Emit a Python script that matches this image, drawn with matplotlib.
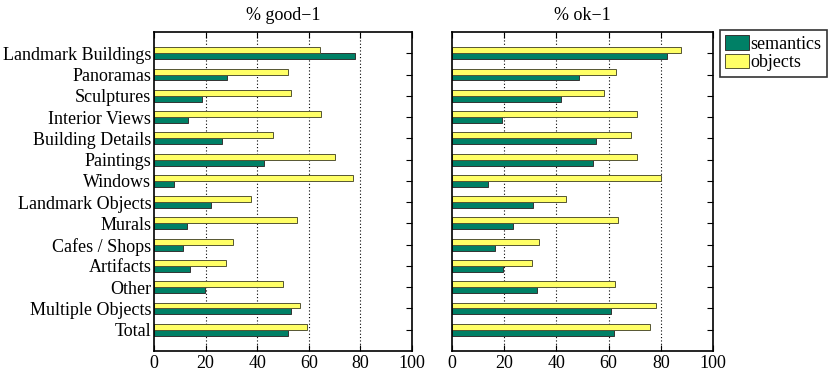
import matplotlib
matplotlib.use("Agg")
import matplotlib.pyplot as plt
import numpy as np

categories = ["Landmark Buildings", "Panoramas", "Sculptures", "Interior Views",
              "Building Details", "Paintings", "Windows", "Landmark Objects",
              "Murals", "Cafes / Shops", "Artifacts", "Other",
              "Multiple Objects", "Total"]

good_semantics = [78.1, 28.2, 18.5, 13.2, 26.5, 42.8, 7.6, 21.9, 12.8, 11.1, 14.0, 19.9, 53.2, 51.8]
good_objects = [64.5, 52.1, 53.0, 64.6, 46.3, 70.2, 77.0, 37.6, 55.3, 30.6, 27.8, 50.0, 56.4, 59.3]

ok_semantics = [82.5, 48.5, 41.6, 19.2, 55.0, 54.0, 13.8, 31.2, 23.4, 16.6, 19.4, 32.5, 60.8, 62.0]
ok_objects = [87.7, 62.7, 58.4, 71.0, 68.7, 70.9, 80.0, 43.6, 63.7, 33.4, 30.5, 62.3, 78.1, 76.0]

titles = ["% good\u22121", "% ok\u22121"]
xticks = [0, 20, 40, 60, 80, 100]
series_names = ["semantics", "objects"]

green = (0.0, 0.5, 0.4)
yellow = (1.0, 1.0, 0.4)

plt.rcParams['font.family'] = ['Liberation Serif', 'DejaVu Serif']
plt.rcParams['font.size'] = 13

fig = plt.figure(figsize=(8.3, 3.71), dpi=100)
ax1 = fig.add_axes([154/830, 20/371, 258/830, 319/371])
ax2 = fig.add_axes([452/830, 20/371, 261/830, 319/371])

y = np.arange(1, len(categories) + 1)
h = 0.28
off = 0.14

for ax, sem, obj, title, showlab in [(ax1, good_semantics, good_objects, titles[0], True),
                                     (ax2, ok_semantics, ok_objects, titles[1], False)]:
    for xv in xticks[1:-1]:
        ax.axvline(xv, color='k', linestyle=(0, (1, 2)), linewidth=0.8, zorder=0)
    ax.barh(y + off, sem, height=h, color=green, edgecolor='#333333', linewidth=0.7, zorder=2,
            label=series_names[0])
    ax.barh(y - off, obj, height=h, color=yellow, edgecolor='#555533', linewidth=0.7, zorder=2,
            label=series_names[1])
    ax.set_xlim(0, 100)
    ax.set_ylim(15, 0)
    ax.set_xticks(xticks)
    ax.set_yticks(y)
    if showlab:
        ax.set_yticklabels(categories)
    else:
        ax.set_yticklabels([])
    ax.tick_params(direction='in', length=4, width=0.8, top=True, right=True)
    ax.tick_params(axis='x', labelsize=13, pad=3)
    ax.tick_params(axis='y', labelsize=13, pad=2)
    for s in ax.spines.values():
        s.set_linewidth(1.2)
    ax.set_title(title, fontsize=13, pad=9)

handles = [plt.Rectangle((0, 0), 1, 1, facecolor=green, edgecolor='#333333', linewidth=0.7),
           plt.Rectangle((0, 0), 1, 1, facecolor=yellow, edgecolor='#555533', linewidth=0.7)]
leg = fig.legend(handles, series_names, loc='upper left', bbox_to_anchor=(720/830, 1 - 30/371),
                 frameon=True, fancybox=False, edgecolor='k', fontsize=13,
                 handlelength=1.3, handleheight=0.85, handletextpad=0.1, borderpad=0.3,
                 labelspacing=0.05, borderaxespad=0)
leg.get_frame().set_linewidth(1.2)

fig.savefig("out.png", dpi=100)
